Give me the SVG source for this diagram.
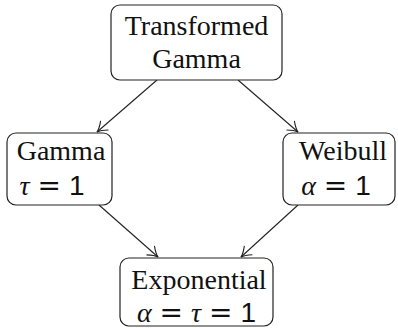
<svg xmlns="http://www.w3.org/2000/svg" width="398" height="328" viewBox="0 0 398 328">
  <style>
    .box { fill: #ffffff; stroke: #222222; stroke-width: 1.2; }
    .lbl { font-family: "Liberation Serif", "Times New Roman", serif; font-size: 28px; fill: #111111; text-anchor: middle; }
    .mi { font-style: italic; }
    .eq { font-family: "DejaVu Sans", sans-serif; }
    .num { font-family: "Liberation Sans", Arial, sans-serif; }
    .edge { fill: none; stroke: #222222; stroke-width: 1.1; marker-end: url(#arrow); }
  </style>
  <defs>
    <marker id="arrow" viewBox="-12 -8 14 16" markerWidth="14" markerHeight="16" refX="0" refY="0" orient="auto" markerUnits="userSpaceOnUse">
      <path d="M -10 -6 Q -4 -1 0 0 Q -4 1 -10 6" fill="none" stroke="#222222" stroke-width="1.1"/>
    </marker>
  </defs>

  <g id="edges">
    <line class="edge" x1="157" y1="80" x2="97" y2="132"/>
    <line class="edge" x1="238" y1="80" x2="298" y2="132"/>
    <line class="edge" x1="99" y1="205" x2="158" y2="257"/>
    <line class="edge" x1="298" y1="205" x2="241" y2="257"/>
  </g>

  <g id="transformed-gamma">
    <rect class="box" x="111" y="5" width="171" height="75" rx="9"/>
    <text class="lbl" x="196.5" y="35">Transformed</text>
    <text class="lbl" x="196.5" y="68">Gamma</text>
  </g>

  <g id="gamma">
    <rect class="box" x="7" y="133" width="105" height="72" rx="9"/>
    <text class="lbl" x="61" y="160">Gamma</text>
    <text class="lbl" x="52" y="195"><tspan class="mi">τ</tspan><tspan class="eq" dx="8">=</tspan><tspan class="num" dx="8">1</tspan></text>
  </g>

  <g id="weibull">
    <rect class="box" x="283" y="133" width="112" height="72" rx="9"/>
    <text class="lbl" x="343" y="160">Weibull</text>
    <text class="lbl" x="336" y="195"><tspan class="mi">α</tspan><tspan class="eq" dx="8">=</tspan><tspan class="num" dx="8">1</tspan></text>
  </g>

  <g id="exponential">
    <rect class="box" x="120" y="258" width="153" height="68" rx="9"/>
    <text class="lbl" x="199" y="289">Exponential</text>
    <text class="lbl" x="196.5" y="322"><tspan class="mi">α</tspan><tspan class="eq" dx="8">=</tspan><tspan class="mi" dx="8">τ</tspan><tspan class="eq" dx="8">=</tspan><tspan class="num" dx="8">1</tspan></text>
  </g>
</svg>
